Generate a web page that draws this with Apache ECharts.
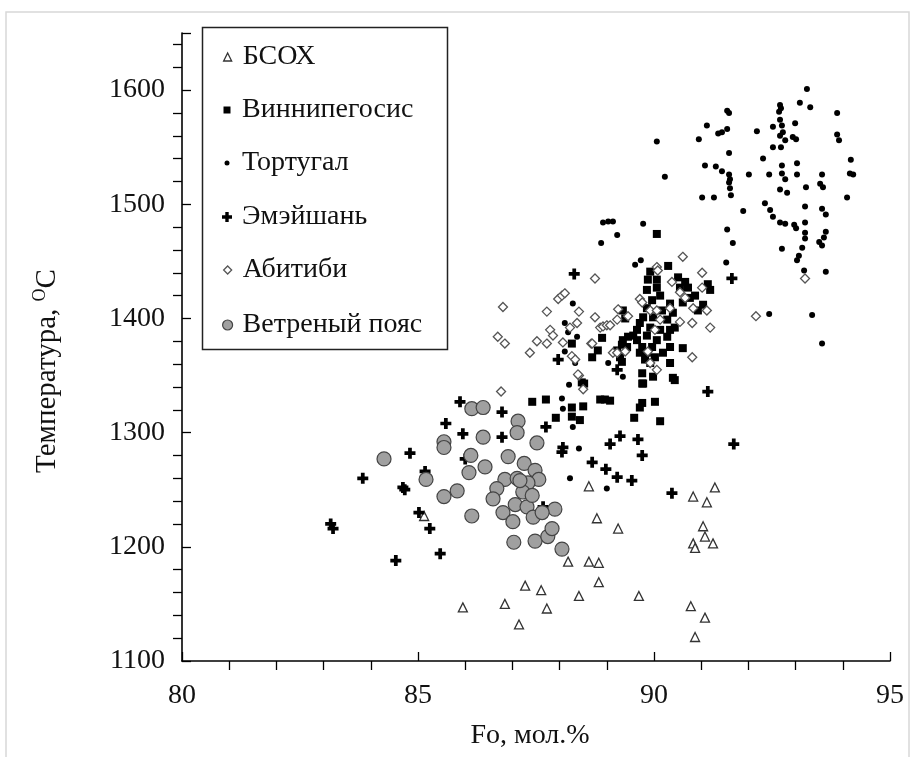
<!DOCTYPE html>
<html>
<head>
<meta charset="utf-8">
<script src="https://cdn.jsdelivr.net/npm/echarts@6/dist/echarts.min.js"></script>
<style>
  html, body { margin: 0; padding: 0; background: #fff; }
  #chart { width: 915px; height: 757px; }
</style>
</head>
<body>
<div id="chart"></div>
<script>
// Series names (legend order)
const seriesNames = ['БСОХ', 'Виннипегосис', 'Тортугал', 'Эмэйшань', 'Абитиби', 'Ветреный пояс'];

// Axis tick values
const xTicks = [80, 85, 90, 95];
const yTicks = [1100, 1200, 1300, 1400, 1500, 1600];

// [Fo, mol.%, temperature °C]
const bsoxData = [
  [85.13,1227],[85.95,1147],[86.84,1150],[87.14,1132],[87.27,1166],[87.61,1162],[87.73,1146],
  [88.18,1187],[88.41,1157],[88.62,1187],[88.83,1186],[88.83,1169],[88.62,1253],[88.79,1225],
  [89.24,1216],[89.68,1157],[90.83,1244],[91.29,1252],[91.12,1239],[91.04,1218],[91.08,1209],
  [90.83,1203],[90.87,1199],[91.25,1203],[90.78,1148],[91.08,1138],[90.87,1121]
];

const winnipegosisData = [
  [90.06,1474],[90.30,1446],[89.92,1441],[90.51,1436],[90.66,1432],[90.72,1427],[91.14,1430],
  [91.19,1425],[89.85,1425],[90.06,1427],[90.13,1420],[89.96,1416],[89.85,1409],[89.77,1401],
  [89.70,1396],[89.64,1390],[89.56,1385],[89.45,1384],[89.34,1381],[89.32,1377],[89.43,1375],
  [89.22,1372],[89.28,1366],[89.39,1400],[89.34,1407],[88.90,1383],[88.81,1372],[88.69,1366],
  [89.32,1362],[89.64,1381],[89.75,1375],[89.70,1370],[89.81,1364],[89.75,1352],[89.92,1361],
  [90.02,1366],[90.19,1370],[90.34,1375],[90.28,1384],[90.13,1390],[90.28,1399],[90.40,1405],
  [90.34,1413],[90.17,1407],[89.98,1401],[89.92,1392],[89.85,1385],[90.06,1381],[89.96,1375],
  [89.85,1370],[90.34,1361],[90.40,1348],[90.61,1374],[89.75,1343],[89.98,1349],[90.34,1390],
  [90.44,1392],[90.61,1414],[90.76,1418],[90.87,1420],[91.04,1412],[90.93,1407],[90.55,1427],
  [90.06,1434],[89.87,1434],[88.47,1344],[88.52,1343],[89.77,1343],[90.02,1327],[89.75,1326],
  [89.70,1322],[89.58,1313],[90.13,1310],[88.96,1329],[89.07,1328],[88.86,1329],[90.44,1346],
  [88.26,1378],[87.42,1327],[87.71,1329],[87.92,1313],[88.26,1322],[88.26,1314],[88.50,1323],
  [88.43,1311]
];

const tortugalData = [
  [93.24,1601],[93.09,1589],[93.31,1585],[92.67,1587],[92.69,1584],[92.65,1581],[91.55,1582],
  [91.59,1580],[91.12,1569],[91.36,1562],[91.44,1563],[91.55,1566],[92.18,1564],[92.52,1568],
  [92.67,1574],[92.71,1569],[92.73,1563],[92.67,1560],[92.78,1556],[92.99,1571],[92.94,1559],
  [93.01,1557],[92.52,1550],[92.69,1550],[90.95,1557],[90.06,1555],[91.59,1545],[92.31,1540],
  [93.03,1536],[92.71,1534],[91.08,1534],[91.31,1533],[91.44,1529],[91.59,1526],[91.61,1522],
  [91.59,1519],[91.61,1514],[91.63,1508],[92.01,1526],[92.44,1526],[92.71,1527],[92.78,1522],
  [93.03,1526],[93.56,1526],[93.52,1518],[93.58,1515],[93.22,1515],[92.67,1513],[92.82,1510],
  [90.23,1524],[91.02,1506],[91.27,1506],[92.35,1501],[91.89,1494],[92.46,1495],[92.52,1489],
  [92.67,1484],[92.78,1483],[92.97,1482],[93.01,1479],[93.20,1498],[93.56,1496],[93.64,1491],
  [93.20,1484],[93.20,1475],[93.20,1470],[93.64,1476],[93.60,1471],[93.50,1467],[93.56,1464],
  [91.55,1478],[91.67,1466],[92.71,1461],[93.14,1462],[93.07,1455],[93.03,1451],[93.18,1442],
  [93.64,1441],[91.53,1449],[89.77,1483],[89.72,1451],[92.44,1404],[93.35,1403],[93.56,1378],
  [93.88,1580],[93.88,1561],[93.92,1556],[94.17,1539],[94.15,1527],[94.22,1526],[94.09,1506],
  [88.92,1484],[89.03,1485],[89.13,1485],[89.22,1473],[88.88,1466],[89.60,1447],[88.28,1413],
  [88.11,1396],[88.18,1388],[88.37,1384],[88.11,1371],[88.33,1361],[89.03,1361],[88.20,1342],
  [88.05,1330],[88.07,1321],[88.28,1305],[88.41,1286],[89.34,1349],[88.22,1260],[89.00,1251]
];

const emeishanData = [
  [83.15,1220],[83.20,1216],[83.83,1260],[84.53,1188],[84.68,1252],[84.72,1250],[84.83,1282],
  [85.15,1266],[85.02,1230],[85.25,1216],[85.47,1194],[85.59,1308],[85.89,1327],[85.95,1299],
  [86.00,1277],[86.78,1318],[86.78,1296],[87.71,1305],[88.07,1287],[88.05,1283],[88.69,1274],
  [88.98,1268],[89.07,1290],[89.28,1297],[89.66,1294],[89.75,1280],[89.22,1261],[89.53,1258],
  [90.38,1247],[87.44,1225],[87.65,1235],[87.97,1364],[88.31,1439],[89.22,1355],[91.14,1336],
  [91.69,1290],[91.65,1435]
];

const abitibiData = [
  [86.80,1410],[86.69,1384],[86.84,1378],[86.76,1336],[87.37,1370],[87.52,1380],[87.73,1378],
  [87.73,1406],[87.80,1390],[87.86,1385],[87.97,1417],[88.05,1420],[88.11,1422],[88.07,1379],
  [88.22,1392],[88.37,1396],[88.41,1406],[88.75,1435],[88.75,1401],[88.67,1378],[88.86,1392],
  [88.92,1393],[89.00,1394],[89.07,1394],[88.26,1367],[88.33,1364],[88.41,1350],[88.50,1338],
  [88.39,1351],[88.69,1378],[89.13,1370],[89.22,1370],[89.39,1371],[89.24,1408],[89.45,1402],
  [89.22,1399],[89.70,1417],[89.75,1414],[89.92,1407],[90.06,1407],[90.34,1409],[90.06,1445],
  [90.08,1442],[90.61,1454],[91.02,1440],[91.02,1427],[91.12,1407],[91.19,1392],[90.81,1396],
  [90.81,1366],[90.38,1432],[90.55,1423],[90.66,1418],[90.83,1409],[90.55,1397],[89.92,1361],
  [90.06,1355],[90.02,1390],[90.13,1399],[89.87,1371],[92.16,1402],[93.20,1435]
];

const windyBeltData = [
  [84.28,1277],[85.17,1259],[85.55,1292],[85.55,1287],[86.14,1321],[86.38,1322],[86.38,1296],
  [86.12,1280],[86.08,1265],[86.42,1270],[85.83,1249],[85.55,1244],[86.14,1227],[87.12,1310],
  [87.10,1300],[87.52,1291],[86.91,1279],[87.25,1273],[87.48,1267],[87.56,1259],[86.84,1259],
  [87.10,1260],[87.33,1256],[87.22,1248],[86.67,1251],[86.59,1242],[86.80,1230],[87.01,1222],
  [87.06,1237],[87.31,1235],[87.44,1226],[87.03,1204],[87.48,1205],[87.75,1209],[87.84,1216],
  [87.90,1233],[87.63,1230],[88.05,1198],[87.42,1245],[87.16,1258]
];

const serif = '"Liberation Serif", "DejaVu Serif", serif';
const plusPath = 'path://M3.3,0H6.7V3.3H10V6.7H6.7V10H3.3V6.7H0V3.3H3.3Z';

// Per-series marker styles
const markerStyles = [
  { symbol: 'triangle', size: 9, legendSize: 8, item: { color: '#fff', borderColor: '#333', borderWidth: 1.3 } },
  { symbol: 'rect', size: 8, legendSize: 7, item: { color: '#000' } },
  { symbol: 'circle', size: 6, legendSize: 5, item: { color: '#000' } },
  { symbol: plusPath, size: 11, legendSize: 10, item: { color: '#000' } },
  { symbol: 'diamond', size: 9, legendSize: 8, item: { color: '#fff', borderColor: '#555', borderWidth: 1.3 } },
  { symbol: 'circle', size: 14, legendSize: 10, item: { color: '#a0a0a0', borderColor: '#444', borderWidth: 1.2 } }
];
const seriesData = [bsoxData, winnipegosisData, tortugalData, emeishanData, abitibiData, windyBeltData];

// Legend rows: icon centre y positions inside the boxed legend
const legendRowY = [57, 110, 163, 217, 270, 325];
const legendIconX = 227;
const legendTextX = 242;

const legends = seriesNames.map((name, i) => {
  const s = markerStyles[i].legendSize;
  return {
    data: [name],
    orient: 'vertical',
    left: legendIconX - s / 2,
    top: legendRowY[i] - 14,
    padding: 0,
    itemWidth: s,
    itemHeight: s,
    selectedMode: false,
    itemStyle: Object.assign({}, markerStyles[i].item),
    textStyle: {
      fontFamily: serif, fontSize: 28, color: '#111', lineHeight: 28,
      padding: [0, 0, 0, legendTextX - (legendIconX + s / 2 + 5)]
    }
  };
});

const series = seriesNames.map((name, i) => ({
  name: name,
  type: 'scatter',
  data: seriesData[i],
  symbol: markerStyles[i].symbol,
  symbolSize: markerStyles[i].size,
  itemStyle: Object.assign({ opacity: 1 }, markerStyles[i].item),
  emphasis: { disabled: true },
  z: 2 + i
}));

const chart = echarts.init(document.getElementById('chart'), null, { renderer: 'canvas' });
chart.setOption({
  animation: false,
  backgroundColor: '#fff',
  grid: { left: 182, right: 25, top: 33, bottom: 96, containLabel: false },
  legend: legends,
  xAxis: {
    type: 'value', min: xTicks[0], max: xTicks[xTicks.length - 1], interval: 5,
    name: 'Fo, мол.%', nameLocation: 'middle', nameGap: 61,
    nameTextStyle: { fontFamily: serif, fontSize: 28, color: '#111', padding: [0, 12, 0, 0] },
    axisLine: { show: true, onZero: false, lineStyle: { color: '#000', width: 1.6 } },
    axisTick: { show: true, inside: true, length: 9, lineStyle: { color: '#000', width: 1.3 } },
    minorTick: { show: true, splitNumber: 5, length: -9, lineStyle: { color: '#000', width: 1.3 } },
    axisLabel: { fontFamily: serif, fontSize: 28, color: '#111', margin: 21 },
    splitLine: { show: false }
  },
  yAxis: {
    type: 'value', min: yTicks[0], max: 1650, interval: 100,
    name: 'Температура, {sup|O}C', nameLocation: 'middle', nameGap: 118, nameRotate: 90,
    nameTextStyle: {
      fontFamily: serif, fontSize: 29, color: '#111', padding: [0, 48, 0, 0],
      rich: { sup: { fontFamily: serif, fontSize: 18, color: '#111', padding: [0, 0, 15, 0] } }
    },
    axisLine: { show: true, onZero: false, lineStyle: { color: '#000', width: 1.6 } },
    axisTick: { show: true, inside: true, length: 9, lineStyle: { color: '#000', width: 1.3 } },
    minorTick: { show: true, splitNumber: 5, length: -9, lineStyle: { color: '#000', width: 1.3 } },
    axisLabel: {
      fontFamily: serif, fontSize: 28, color: '#111', margin: 17,
      formatter: v => (yTicks.indexOf(v) >= 0 ? String(v) : '')
    },
    splitLine: { show: false }
  },
  graphic: [
    { type: 'rect', silent: true, shape: { x: 6, y: 12, width: 903, height: 760 },
      style: { fill: 'none', stroke: '#d8d8d8', lineWidth: 1.5 }, z: -1 },
    { type: 'rect', silent: true, shape: { x: 202.5, y: 27.5, width: 245, height: 322 },
      style: { fill: '#fff', stroke: '#222', lineWidth: 1.5 }, z: 0 }
  ],
  series: series
});
</script>
</body>
</html>
